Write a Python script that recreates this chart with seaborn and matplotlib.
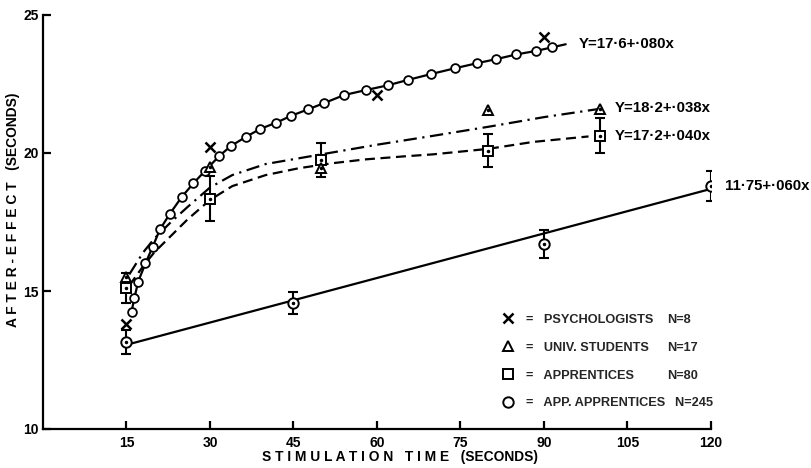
import matplotlib
matplotlib.use("Agg")
import matplotlib.pyplot as plt
import seaborn as sns
from matplotlib.lines import Line2D

# ---------------- data ----------------
x_ticks = [15, 30, 45, 60, 75, 90, 105, 120]
y_ticks = [10, 15, 20, 25]

# PSYCHOLOGISTS (x markers)
psych_x = [15, 30, 60, 90]
psych_y = [13.8, 20.2, 22.1, 24.2]

# UNIV. STUDENTS (triangles)
students_x = [15, 30, 50, 80, 100]
students_y = [15.5, 19.5, 19.45, 21.55, 21.6]

# APPRENTICES (squares, with error bars)
appr_x = [15, 30, 50, 80, 100]
appr_y = [15.1, 18.35, 19.75, 20.08, 20.63]
appr_err = [0.55, 0.8, 0.63, 0.6, 0.63]

# APP. APPRENTICES (dotted circles, with error bars)
appapp_x = [15, 45, 90, 120]
appapp_y = [13.15, 14.55, 16.7, 18.8]
appapp_err = [0.42, 0.4, 0.5, 0.55]

# fitted curve for psychologists (open-circle chain), last point = end of line
psych_fit_x = [15.9, 16.4, 17.1, 18.4, 19.7, 21.0, 22.8, 24.9, 27.0, 29.1,
               31.7, 33.8, 36.5, 39.0, 41.9, 44.6, 47.6, 50.4, 54.1, 58.0,
               61.9, 65.6, 69.7, 74.0, 77.9, 81.4, 85.0, 88.6, 91.5, 93.9]
psych_fit_y = [14.25, 14.73, 15.34, 16.0, 16.6, 17.23, 17.8, 18.4, 18.9, 19.35,
               19.9, 20.26, 20.59, 20.87, 21.1, 21.35, 21.58, 21.8, 22.1, 22.28,
               22.45, 22.65, 22.86, 23.07, 23.25, 23.4, 23.57, 23.7, 23.83, 23.94]

# fitted curve for univ. students (dash-dot)
students_fit_x = [15.5, 18, 20, 23, 26, 30, 34, 40, 50, 60, 70, 80, 90, 100]
students_fit_y = [15.6, 16.4, 16.9, 17.5, 18.05, 18.75, 19.2, 19.6, 19.95,
                  20.3, 20.62, 20.95, 21.3, 21.6]

# fitted curve for apprentices (dashed)
appr_fit_x = [15.5, 18, 20, 23, 26, 30, 34, 40, 46, 52, 58, 65, 70, 80, 88, 98]
appr_fit_y = [15.2, 15.9, 16.4, 17.0, 17.6, 18.3, 18.8, 19.2, 19.45, 19.63,
              19.77, 19.88, 19.95, 20.15, 20.4, 20.6]

# fitted line for app. apprentices (solid)
appapp_fit_x = [15, 120]
appapp_fit_y = [13.05, 18.7]

equations = ["Y=17·6+·080x", "Y=18·2+·038x", "Y=17·2+·040x", "11·75+·060x"]
eq_x = [96.2, 102.7, 102.7, 122.5]
eq_y = [23.95, 21.63, 20.6, 18.8]

legend_names = ["PSYCHOLOGISTS", "UNIV. STUDENTS", "APPRENTICES",
                "APP. APPRENTICES"]
legend_n = ["N=8", "N=17", "N=80", "  N=245"]

# ---------------- drawing ----------------
sns.set_theme(style="ticks")
plt.rcParams["font.family"] = ["Liberation Sans", "DejaVu Sans"]
plt.rcParams["axes.linewidth"] = 1.6

fig = plt.figure(figsize=(8.12, 4.68), dpi=100)
ax = fig.add_axes([43 / 812, 39 / 468, 668 / 812, 414 / 468])

lw = 1.6
K = "black"

# curves
sns.lineplot(x=psych_fit_x, y=psych_fit_y, ax=ax, color=K, lw=lw, sort=False,
             estimator=None)
sns.lineplot(x=students_fit_x, y=students_fit_y, ax=ax, color=K, lw=lw,
             sort=False, estimator=None, linestyle=(0, (6, 2.5, 1, 2.5)))
sns.lineplot(x=appr_fit_x, y=appr_fit_y, ax=ax, color=K, lw=lw, sort=False,
             estimator=None, linestyle=(0, (4.5, 2.5)))
sns.lineplot(x=appapp_fit_x, y=appapp_fit_y, ax=ax, color=K, lw=lw, sort=False,
             estimator=None)

# open circles along psychologists' curve
ax.plot(psych_fit_x[:-1], psych_fit_y[:-1], ls="none", marker="o", ms=6.3,
        mfc="white", mec=K, mew=1.3, zorder=4)

# error bars
ax.errorbar(appr_x, appr_y, yerr=appr_err, fmt="none", ecolor=K, elinewidth=1.5,
            capsize=3.5, capthick=1.5, zorder=3)
ax.errorbar(appapp_x, appapp_y, yerr=appapp_err, fmt="none", ecolor=K,
            elinewidth=1.5, capsize=3.5, capthick=1.5, zorder=3)

# point markers
ax.plot(appr_x, appr_y, ls="none", marker="s", ms=7, mfc="white", mec=K,
        mew=1.4, zorder=5)
ax.plot(appr_x, appr_y, ls="none", marker=".", ms=3, color=K, zorder=6)
ax.plot(students_x, students_y, ls="none", marker="^", ms=7.5, mfc="white",
        mec=K, mew=1.4, zorder=5)
ax.plot(students_x, students_y, ls="none", marker=".", ms=3, color=K, zorder=6)
ax.plot(appapp_x, appapp_y, ls="none", marker="o", ms=7.5, mfc="white", mec=K,
        mew=1.4, zorder=5)
ax.plot(appapp_x, appapp_y, ls="none", marker=".", ms=3, color=K, zorder=6)
ax.plot(psych_x, psych_y, ls="none", marker="x", ms=7, mec=K, mew=1.8, zorder=6)

# equations
for t, xx, yy in zip(equations, eq_x, eq_y):
    ax.text(xx, yy, t, fontsize=10.8, fontweight="bold", va="center",
            ha="left", color=K, clip_on=False)

# axes
ax.set_xlim(0, 120)
ax.set_ylim(10, 25)
ax.set_xticks(x_ticks)
ax.set_xticklabels([str(v) for v in x_ticks])
ax.set_yticks(y_ticks)
ax.set_yticklabels([str(v) for v in y_ticks])
ax.tick_params(axis="both", direction="in", length=6, width=1.6, colors=K,
               labelsize=10)
ax.tick_params(axis="y", pad=3)
ax.tick_params(axis="x", pad=5)
for lab in ax.get_xticklabels() + ax.get_yticklabels():
    lab.set_fontweight("bold")
sns.despine(ax=ax)
ax.spines["left"].set_color(K)
ax.spines["bottom"].set_color(K)

ax.set_xlabel("S T I M U L A T I O N   T I M E   (SECONDS)", fontsize=9.9,
              fontweight="bold", color=K)
ax.xaxis.set_label_coords(0.535, -0.05)
ax.set_ylabel("A F T E R - E F F E C T   (SECONDS)", fontsize=9.9,
              fontweight="bold", color=K)
ax.yaxis.set_label_coords(-0.035, 0.53)

# legend: names with markers, N values as a second column
handles = [
    Line2D([], [], ls="none", marker="x", ms=7, mec=K, mew=1.8),
    Line2D([], [], ls="none", marker="^", ms=7.5, mfc="white", mec=K, mew=1.4),
    Line2D([], [], ls="none", marker="s", ms=7, mfc="white", mec=K, mew=1.4),
    Line2D([], [], ls="none", marker="o", ms=7.5, mfc="white", mec=K, mew=1.4),
]
blank = [Line2D([], [], ls="none") for _ in legend_n]
leg_prop = {"size": 9.2, "weight": "bold"}
leg1 = ax.legend(handles, ["=   " + n for n in legend_names], loc="center left",
                 bbox_to_anchor=(0.686, 0.163), frameon=False, borderpad=0,
                 borderaxespad=0, handlelength=1.0, handletextpad=0.9,
                 labelspacing=1.25, prop=leg_prop)
ax.add_artist(leg1)
leg2 = ax.legend(blank, legend_n, loc="center left",
                 bbox_to_anchor=(0.935, 0.163), frameon=False, borderpad=0,
                 borderaxespad=0, handlelength=0, handletextpad=0,
                 labelspacing=1.25, prop=leg_prop)

fig.savefig("out.png", dpi=100)
